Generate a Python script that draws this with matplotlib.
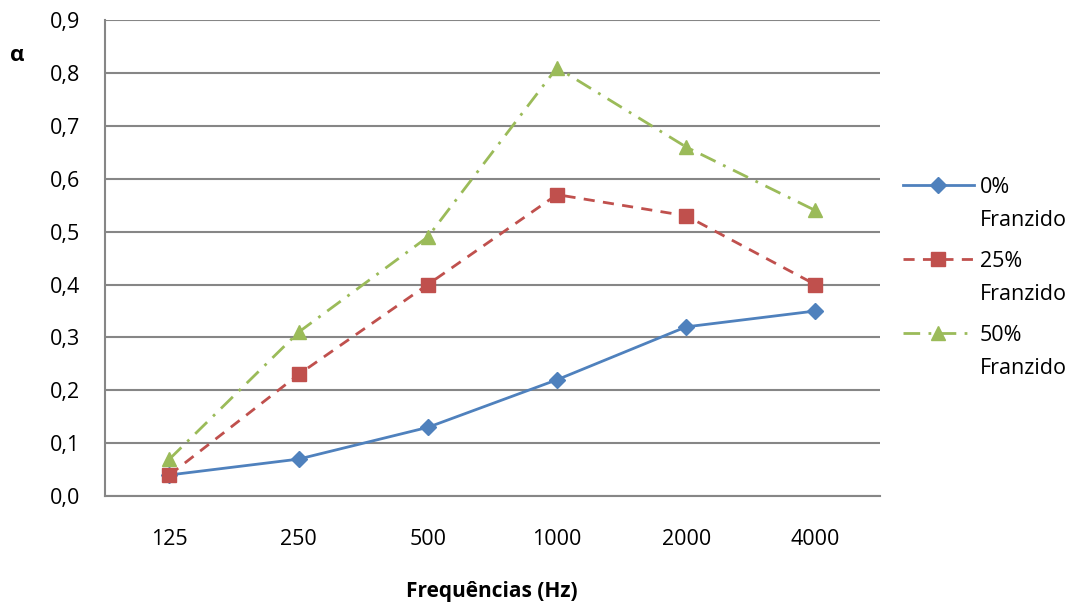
import numpy as np
import matplotlib
matplotlib.use('Agg')
import matplotlib.pyplot as plt

plt.rcParams['font.family'] = ['Open Sans', 'DejaVu Sans']

# DATA
freqs = ['125', '250', '500', '1000', '2000', '4000']
franz_0 = [0.04, 0.07, 0.13, 0.22, 0.32, 0.35]
franz_25 = [0.04, 0.23, 0.40, 0.57, 0.53, 0.40]
franz_50 = [0.07, 0.31, 0.49, 0.81, 0.66, 0.54]
labels = ['0%', '25%', '50%']
label_suffix = 'Franzido'

fig = plt.figure(figsize=(10.81, 6.08), dpi=100)
ax = fig.add_axes([0.097, 0.184, 0.717, 0.783])

x = np.arange(len(freqs))
ax.plot(x, franz_0, color='#4F81BD', linestyle='-', lw=2, marker='D', ms=8, label=labels[0])
ax.plot(x, franz_25, color='#C0504D', linestyle=(0, (4, 3)), lw=2, marker='s', ms=10, label=labels[1])
ax.plot(x, franz_50, color='#9BBB59', linestyle=(0, (6, 3, 1, 3)), lw=2, marker='^', ms=10, label=labels[2])

ax.set_xlim(-0.5, 5.5)
ax.set_ylim(0, 0.9)
ax.set_xticks(x)
ax.set_xticklabels(freqs)
yt = np.arange(0, 0.91, 0.1)
ax.set_yticks(yt)
ax.set_yticklabels([('%.1f' % v).replace('.', ',') for v in yt])
ax.tick_params(axis='both', labelsize=15.5, length=0)
ax.tick_params(axis='x', pad=24)
ax.tick_params(axis='y', pad=18)
ax.grid(axis='y', color='#868686', lw=1.5)
ax.set_axisbelow(True)
for s in ['top', 'right']:
    ax.spines[s].set_visible(False)
for s in ['left', 'bottom']:
    ax.spines[s].set_color('#868686')
    ax.spines[s].set_linewidth(1.5)

fig.text(0.009, 0.9, 'α', fontsize=16, fontweight='bold')
fig.text(0.455, 0.018, 'Frequências (Hz)', fontsize=15, fontweight='bold', ha='center')

# legend: percentage next to the marker, 'Franzido' on the line below
leg = ax.legend(loc='upper left', bbox_to_anchor=(0.827, 0.723), bbox_transform=fig.transFigure,
                frameon=False, fontsize=15.5, handlelength=3.3, labelspacing=2.45,
                handletextpad=0.3, borderaxespad=0.0)
fig.canvas.draw()
inv = fig.transFigure.inverted()
for t in leg.get_texts():
    bb = t.get_window_extent()
    x0, yc = inv.transform((bb.x0, (bb.y0 + bb.y1) / 2 - 33))
    fig.text(x0, yc, label_suffix, fontsize=15.5, va='center', ha='left')

fig.savefig('out.png', dpi=100)
